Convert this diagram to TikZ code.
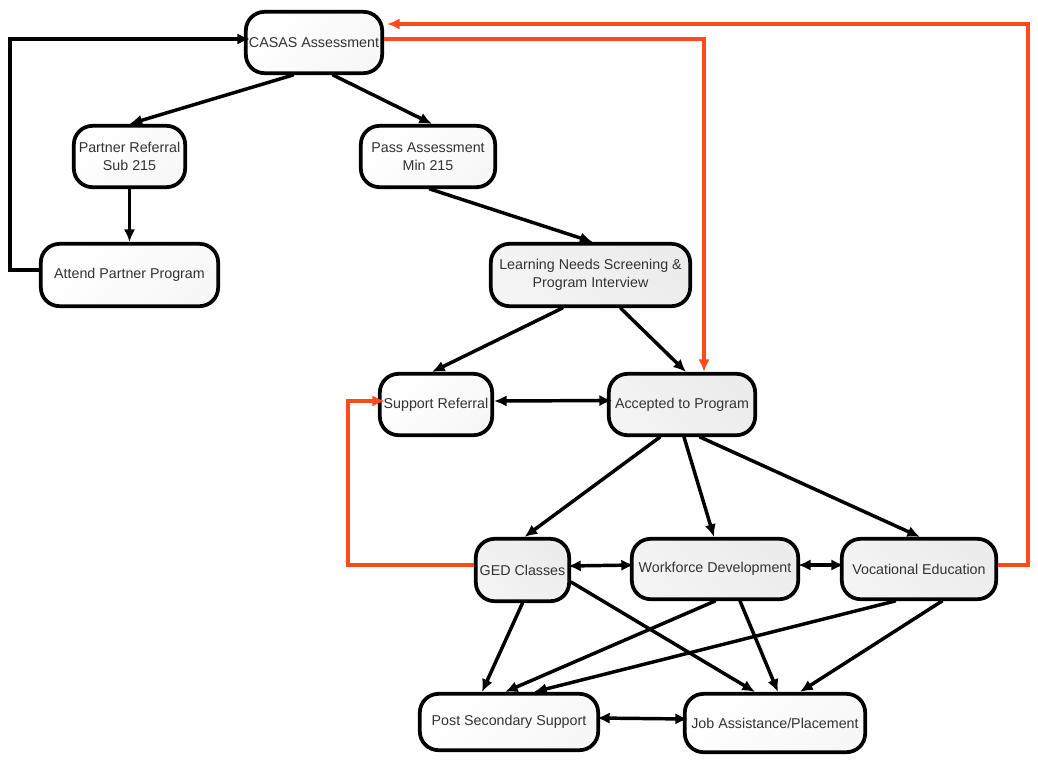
\documentclass[tikz,border=0pt]{standalone}
\usepackage{fontspec}
\setmainfont{Liberation Sans}
\usetikzlibrary{calc,arrows.meta}
\definecolor{flowred}{RGB}{255,75,28}

\begin{document}
\begin{tikzpicture}[
    x=0.75pt,y=-0.75pt,
    >={Latex[length=9.5pt,width=8.5pt]},
    box/.style={draw=black,line width=2.8pt,rounded corners=14pt,align=center,
      inner sep=0pt,text=black!80,font=\fontsize{10.7}{13.5}\selectfont,
      top color=white,bottom color=gray!6,shading angle=45},
    grey box/.style={box,top color=gray!15,bottom color=gray!9,shading angle=-45},
    link/.style={->,line width=2.6pt,line cap=round},
    duo/.style={<->,line width=2.6pt},
    flow/.style={->,line width=2.6pt,color=flowred}
    ]
% INTAKE FLOW CHART
\def\hA{46pt}     % box height, short rows
\def\hB{46.75pt}  % box height, tall rows
\def\hC{45.25pt}  % box height, course row

    \useasboundingbox (0,0) rectangle (1038,765);

    % TOP: ASSESSMENT
    \node[box,minimum width=102.25pt,minimum height=\hA] (casas) at (314,42.5) {CASAS Assessment};
    \node[box,minimum width=83.5pt,minimum height=\hA] (partner) at (129.5,156.5) {Partner Referral\\Sub 215};
    \node[box,minimum width=100.75pt,minimum height=\hA] (pass) at (428,156.5) {Pass Assessment\\Min 215};
    \node[box,minimum width=133pt,minimum height=\hB] (attend) at (129.5,275) {Attend Partner Program};
    \node[grey box,minimum width=149.5pt,minimum height=\hB] (needs) at (590.5,275) {Learning Needs Screening \&\\Program Interview};

    % MIDDLE: REFERRAL / ACCEPTANCE
    \node[box,minimum width=84.25pt,minimum height=\hA] (support) at (436,404.5) {Support Referral};
    \node[grey box,minimum width=109.75pt,minimum height=\hA] (accepted) at (682,404.5) {Accepted to Program};

    % COURSES
    \node[grey box,minimum width=70pt,minimum height=\hB] (ged) at (522.5,570) {GED Classes};
    \node[grey box,minimum width=124.75pt,minimum height=\hC] (workforce) at (715,569) {Workforce Development};
    \node[grey box,minimum width=115.75pt,minimum height=\hC] (vocational) at (919,569) {Vocational Education};

    % OUTCOMES
    \node[box,minimum width=133.75pt,minimum height=42.25pt] (post) at (509,722) {Post Secondary Support};
    \node[box,minimum width=135.25pt,minimum height=43.75pt] (job) at (775,723) {Job Assistance/Placement};

    % TURNING POINTS
    \coordinate (turnL) at (10,39);    % loop back from partner program
    \coordinate (turnR) at (1028,24);  % loop back from vocational education
    \coordinate (turnG) at (348,401);  % loop back from GED classes

    % BLACK LINKS
    \draw[link] ($(casas.south)+(-21,0)$) -- (partner.north);
    \draw[link] ($(casas.south)+(19,0)$) -- ($(pass.north)+(4,0)$);
    \draw[link] (partner.south) -- (attend.north);
    \draw[link] ($(attend.west)+(0,-5)$) -| (turnL) -- ($(casas.west)+(6,-3.5)$);
    \draw[link] ($(pass.south)+(2,0)$) -- ($(needs.north)+(2,0)$);
    \draw[link] ($(needs.south)+(-28,0)$) -- ($(support.north)+(-4,0)$);
    \draw[link] ($(needs.south)+(30,0)$) -- ($(accepted.north)+(4,0)$);
    \draw[duo] ($(support.east)+(0,-3.5)$) -- ($(accepted.west)+(5,-4)$);
    \draw[link] ($(accepted.south)+(-22,0)$) -- ($(ged.north)+(2,0)$);
    \draw[link] ($(accepted.south)+(2,0)$) -- ($(workforce.north)+(-1,0)$);
    \draw[link] ($(accepted.south)+(18,0)$) -- ($(vocational.north)+(1,0)$);
    \draw[duo] ($(ged.east)+(-3,-4)$) -- ($(workforce.west)+(4,-4)$);
    \draw[duo] ($(workforce.east)+(-2,-4)$) -- ($(vocational.west)+(4,-4)$);
    \draw[link] (ged.south) -- ($(post.north)+(-27,0)$);
    \draw[link] ($(ged.east)+(0,12)$) -- ($(job.north)+(-20,0)$);
    \draw[link] (workforce.south) -- ($(post.north)+(-4,0)$);
    \draw[link] ($(workforce.south)+(25,0)$) -- ($(job.north)+(3,0)$);
    \draw[link] ($(vocational.south)+(-24,0)$) -- ($(post.north)+(25,0)$);
    \draw[link] ($(vocational.south)+(23,0)$) -- ($(job.north)+(25,0)$);
    \draw[duo] ($(post.east)+(-3,-4)$) -- ($(job.west)+(5,-4)$);

    % RED LINKS
    \draw[flow] ($(casas.east)+(0,-3.5)$) -| ($(accepted.north)+(22,0)$);
    \draw[flow] ($(vocational.east)+(0,-4)$) -| (turnR) -- ($(casas.east)+(3,-18.5)$);
    \draw[flow] ($(ged.west)+(0,-5)$) -| (turnG) -- ($(support.west)+(7,-3.5)$);
\end{tikzpicture}
\end{document}
